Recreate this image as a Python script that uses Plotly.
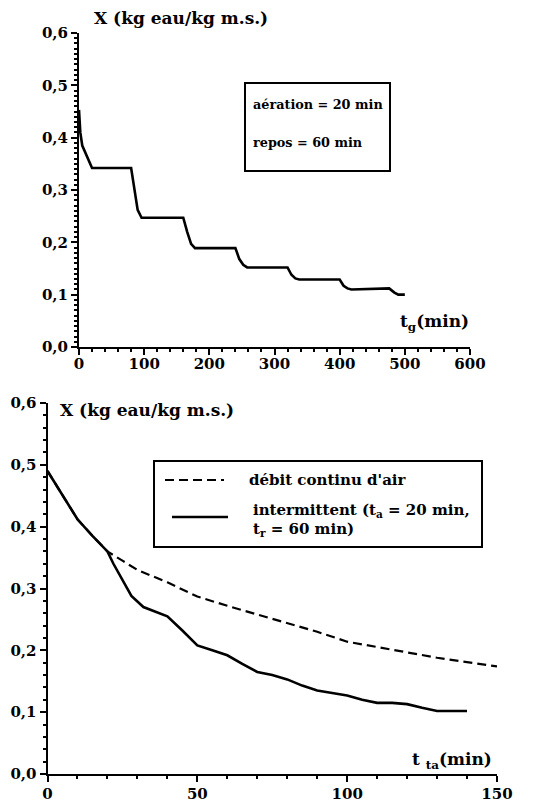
import plotly.graph_objects as go

# ---------------- data ----------------
# top chart: intermittent drying, X vs total time t_g
tg = [0, 2, 5, 10, 20, 80, 84, 90, 96, 160, 166, 172, 178, 240, 246, 252, 258,
      320, 326, 332, 338, 400, 406, 412, 418, 470, 476, 484, 490, 500]
X_top = [0.453, 0.41, 0.385, 0.37, 0.342, 0.342, 0.31, 0.262, 0.247, 0.247, 0.22,
         0.197, 0.189, 0.189, 0.168, 0.157, 0.152, 0.152, 0.138, 0.131, 0.129,
         0.129, 0.117, 0.112, 0.110, 0.111, 0.112, 0.104, 0.100, 0.100]

# bottom chart: continuous air flow vs intermittent, X vs aeration time t_ta
t_cont = [0, 5, 10, 15, 20, 25, 30, 40, 50, 60, 70, 80, 90, 100, 110, 120, 130, 140, 150]
X_cont = [0.49, 0.45, 0.412, 0.385, 0.36, 0.345, 0.33, 0.31, 0.287, 0.272, 0.258,
          0.243, 0.23, 0.214, 0.205, 0.197, 0.188, 0.181, 0.174]

t_int = [0, 5, 10, 15, 20, 22, 25, 28, 32, 36, 40, 45, 50, 55, 60, 65, 70, 75, 80,
         85, 90, 95, 100, 105, 110, 115, 120, 125, 130, 135, 140]
X_int = [0.49, 0.45, 0.412, 0.385, 0.36, 0.34, 0.315, 0.288, 0.27, 0.262, 0.255,
         0.232, 0.208, 0.2, 0.192, 0.178, 0.165, 0.16, 0.153, 0.143, 0.135, 0.131,
         0.127, 0.12, 0.115, 0.115, 0.113, 0.107, 0.102, 0.102, 0.102]

top_x_ticks = [0, 100, 200, 300, 400, 500, 600]
bot_x_ticks = [0, 50, 100, 150]
y_ticks = [0.0, 0.1, 0.2, 0.3, 0.4, 0.5, 0.6]

# ---------------- layout helpers ----------------
W, H = 558, 806
def px(x):
    return x / W
def py(y):
    return 1 - y / H

FONT = "DejaVu Serif"
BLACK = "black"

fig = go.Figure()
fig.add_trace(go.Scatter(x=tg, y=X_top, mode="lines", xaxis="x", yaxis="y",
                         line=dict(color=BLACK, width=2.6)))
fig.add_trace(go.Scatter(x=t_cont, y=X_cont, mode="lines", xaxis="x2", yaxis="y2",
                         line=dict(color=BLACK, width=2.2, dash="9px,5px")))
fig.add_trace(go.Scatter(x=t_int, y=X_int, mode="lines", xaxis="x2", yaxis="y2",
                         line=dict(color=BLACK, width=2.6)))

def xax(domain, rng, ticks, minor_dt, anchor, standoff):
    return dict(domain=domain, range=rng, anchor=anchor, tickvals=ticks,
                automargin=False,
                showline=True, linecolor=BLACK, linewidth=2,
                ticks="outside", ticklen=6, tickwidth=2, tickcolor=BLACK,
                showgrid=False, zeroline=False,
                tickfont=dict(family=FONT, size=15, color=BLACK, weight="bold"),
                ticklabelstandoff=standoff,
                minor=dict(dtick=minor_dt, tick0=0, ticks="outside", ticklen=3,
                           tickwidth=1.5, tickcolor=BLACK, showgrid=False))

def yax(domain, minor_dt, anchor):
    return dict(domain=domain, range=[0, 0.6], anchor=anchor, tickvals=y_ticks,
                tickformat=".1f", automargin=False,
                showline=True, linecolor=BLACK, linewidth=2,
                ticks="outside", ticklen=6, tickwidth=2, tickcolor=BLACK,
                showgrid=False, zeroline=False,
                tickfont=dict(family=FONT, size=15, color=BLACK, weight="bold"),
                minor=dict(dtick=minor_dt, tick0=0, ticks="outside", ticklen=3,
                           tickwidth=1.5, tickcolor=BLACK, showgrid=False))

fig.update_layout(
    template="none",
    width=W, height=H, autosize=False,
    margin=dict(l=0, r=0, t=0, b=0, pad=0),
    paper_bgcolor="white", plot_bgcolor="white", showlegend=False,
    separators=", ",
    font=dict(family=FONT, color=BLACK),
    xaxis=xax([px(79), px(470)], [0, 600], top_x_ticks, 20, "y", -4),
    yaxis=yax([py(347), py(33)], 0.01, "x"),
    xaxis2=xax([px(47.5), px(497)], [0, 150], bot_x_ticks, 10, "y2", -1),
    yaxis2=yax([py(774), py(403)], 0.02, "x2"),
)

def txt(x, y, s, size, xanchor="left"):
    fig.add_annotation(x=px(x), y=py(y), xref="paper", yref="paper", text=s,
                       showarrow=False, xanchor=xanchor, yanchor="middle",
                       font=dict(family=FONT, size=size, color=BLACK, weight="bold"))

# axis titles
txt(92, 18, "X (kg eau/kg m.s.)", 17)
txt(58, 410, "X (kg eau/kg m.s.)", 17)
txt(471, 322, "t<sub>g</sub>(min)", 17, "right")
txt(494, 760, "t <sub>ta</sub>(min)", 17, "right")

# top info box
fig.add_shape(type="rect", xref="paper", yref="paper",
              x0=px(245), x1=px(390), y0=py(171), y1=py(83),
              line=dict(color=BLACK, width=2))
txt(251, 104, "aération = 20 min", 12.8)
txt(251, 142, "repos = 60 min", 12.8)

# bottom legend box
fig.add_shape(type="rect", xref="paper", yref="paper",
              x0=px(154), x1=px(482), y0=py(547), y1=py(461),
              line=dict(color=BLACK, width=2))
fig.add_shape(type="line", xref="paper", yref="paper",
              x0=px(165), x1=px(224), y0=py(480), y1=py(480),
              line=dict(color=BLACK, width=2.2, dash="9px,5px"))
fig.add_shape(type="line", xref="paper", yref="paper",
              x0=px(172), x1=px(228), y0=py(517), y1=py(517),
              line=dict(color=BLACK, width=2.6))
txt(247, 480, "débit continu d'air", 15)
txt(251, 510, "intermittent (t<sub>a</sub> = 20 min,", 15)
txt(251, 529, "t<sub>r</sub> = 60 min)", 15)

fig.write_html("out.html")
